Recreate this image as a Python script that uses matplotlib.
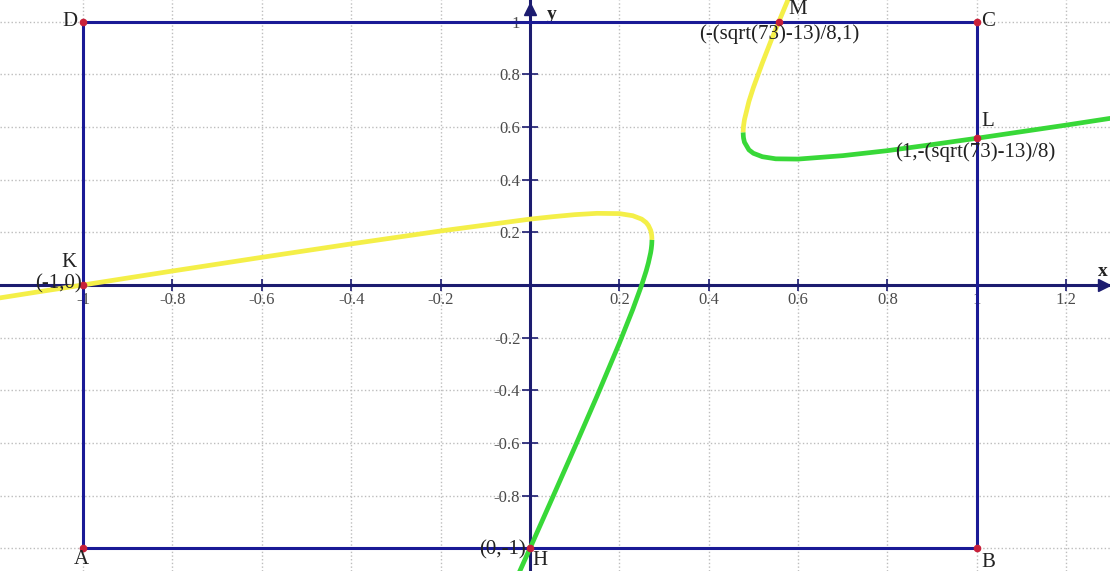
import matplotlib.pyplot as plt

# curve samples
yellow_low_x = [-1.19, -1.1, -1.0, -0.8, -0.6, -0.4, -0.2, 0.0, 0.05, 0.1, 0.15, 0.2,
                0.23, 0.25, 0.26, 0.265, 0.27, 0.2715, 0.2725, 0.273]
yellow_low_y = [-0.050, -0.026, 0.0, 0.053, 0.105, 0.156, 0.205, 0.25, 0.259, 0.267, 0.272, 0.271,
                0.263, 0.25, 0.237, 0.226, 0.208, 0.198, 0.186, 0.171]

green_low_x = [0.273, 0.2725, 0.2715, 0.27, 0.265, 0.26, 0.25, 0.23, 0.2, 0.15, 0.1, 0.05, 0.0, -0.03]
green_low_y = [0.171, 0.154, 0.138, 0.122, 0.084, 0.053, 0.0, -0.093, -0.221, -0.422, -0.617, -0.809, -1.0, -1.114]

yellow_up_x = [0.477, 0.4775, 0.478, 0.48, 0.49, 0.5, 0.52, 0.54, 0.557, 0.57, 0.58]
yellow_up_y = [0.579, 0.596, 0.605, 0.628, 0.697, 0.75, 0.843, 0.930, 1.0, 1.053, 1.093]

green_up_x = [0.477, 0.4775, 0.478, 0.48, 0.49, 0.5, 0.52, 0.55, 0.6, 0.7, 0.8, 0.9, 1.0, 1.1, 1.2, 1.3]
green_up_y = [0.579, 0.564, 0.557, 0.542, 0.513, 0.5, 0.487, 0.479, 0.478, 0.491, 0.510, 0.533, 0.557, 0.582, 0.607, 0.633]

# square ABCD
square_x = [-1, 1, 1, -1, -1]
square_y = [-1, -1, 1, 1, -1]

# named points
pt_names = ['A', 'B', 'C', 'D', 'K', 'H', 'L', 'M']
pt_x = [-1, 1, 1, -1, -1, 0, 1, 0.557]
pt_y = [-1, -1, 1, 1, 0, -1, 0.557, 1]

xtick_vals = [-1, -0.8, -0.6, -0.4, -0.2, 0.2, 0.4, 0.6, 0.8, 1, 1.2]
xtick_labels = ['-1', '-0.8', '-0.6', '-0.4', '-0.2', '0.2', '0.4', '0.6', '0.8', '1', '1.2']
ytick_vals = [-1, -0.8, -0.6, -0.4, -0.2, 0.2, 0.4, 0.6, 0.8, 1]
# the -1 label sits under the "(0,-1)" text in the reference
ytick_labels = ['', '-0.8', '-0.6', '-0.4', '-0.2', '0.2', '0.4', '0.6', '0.8', '1']

navy = '#1c1c70'
sq_col = '#1a1a96'
yellow = '#f4ef48'
green = '#38d838'
red = '#c8203a'
serif = 'Liberation Serif'

fig = plt.figure(figsize=(11.1, 5.71), dpi=100)
ax = fig.add_axes([0, 0, 1, 1])
ax.set_xlim(-1.186, 1.298)
ax.set_ylim(-1.086, 1.082)

# axes through the origin
for s in ['top', 'right']:
    ax.spines[s].set_visible(False)
for s in ['left', 'bottom']:
    ax.spines[s].set_position(('data', 0))
    ax.spines[s].set_color(navy)
    ax.spines[s].set_linewidth(2.2)
    ax.spines[s].set_zorder(1.5)

ax.set_xticks(xtick_vals)
ax.set_xticklabels(xtick_labels)
ax.set_yticks(ytick_vals)
ax.set_yticklabels(ytick_labels)
ax.tick_params(axis='x', direction='inout', length=8, width=1.2, color=navy, pad=1,
               labelsize=12, labelcolor='#4a4a4a')
ax.tick_params(axis='y', direction='inout', length=12, width=1.2, color=navy, pad=1,
               labelsize=12, labelcolor='#4a4a4a')
for lab in ax.get_xticklabels() + ax.get_yticklabels():
    lab.set_fontfamily(serif)

ax.grid(True, linestyle=':', color='#bdbdbd', linewidth=1)
ax.set_axisbelow(True)

# arrow heads
ax.plot(0.995, 0, '>', color=navy, markersize=8, transform=ax.get_yaxis_transform(), clip_on=False)
ax.plot(0, 0.985, '^', color=navy, markersize=8, transform=ax.get_xaxis_transform(), clip_on=False)
ax.text(0.9935, 0.525, 'x', transform=ax.transAxes, fontsize=14, fontweight='bold',
        family=serif, ha='center', va='center', color='#222222')
ax.text(0.497, 0.975, 'y', transform=ax.transAxes, fontsize=14, fontweight='bold',
        family=serif, ha='center', va='center', color='#222222')

# curves
ax.plot(yellow_low_x, yellow_low_y, color=yellow, lw=3.4, solid_capstyle='butt', zorder=2)
ax.plot(green_low_x, green_low_y, color=green, lw=3.4, solid_capstyle='butt', zorder=2)
ax.plot(yellow_up_x, yellow_up_y, color=yellow, lw=3.4, solid_capstyle='butt', zorder=2)
ax.plot(green_up_x, green_up_y, color=green, lw=3.4, solid_capstyle='butt', zorder=2)

# square
ax.plot(square_x, square_y, color=sq_col, lw=2.2, zorder=3)

# points
ax.plot(pt_x, pt_y, 'o', color=red, markersize=4.5, zorder=4)

letter_pos = {
    'A': ((-1, -1), 'center', 'top'),
    'B': ((3, -3), 'left', 'top'),
    'C': ((3, 0), 'left', 'center'),
    'D': ((-4, 0), 'right', 'center'),
    'K': ((-5, 9), 'right', 'bottom'),
    'H': ((2, -2), 'left', 'top'),
    'L': ((3, 5), 'left', 'bottom'),
    'M': ((7, 2), 'left', 'bottom'),
}
for name, px, py in zip(pt_names, pt_x, pt_y):
    off, ha, va = letter_pos[name]
    ax.annotate(name, (px, py), xytext=off, textcoords='offset points', ha=ha, va=va,
                fontsize=15, family=serif, color='#222222', zorder=5)

coord_labels = [
    ('(-1,0)', -1, 0, (-1, 1), 'right', 'center'),
    ('(0,-1)', 0, -1, (-3, -1), 'right', 'center'),
    ('(1,-(sqrt(73)-13)/8)', 1, 0.557, (-1, -3), 'center', 'top'),
    ('(-(sqrt(73)-13)/8,1)', 0.557, 1, (0, -2), 'center', 'top'),
]
for txt, px, py, off, ha, va in coord_labels:
    ax.annotate(txt, (px, py), xytext=off, textcoords='offset points', ha=ha, va=va,
                fontsize=15, family=serif, color='#222222', zorder=5)

fig.savefig('out.png', dpi=100)
